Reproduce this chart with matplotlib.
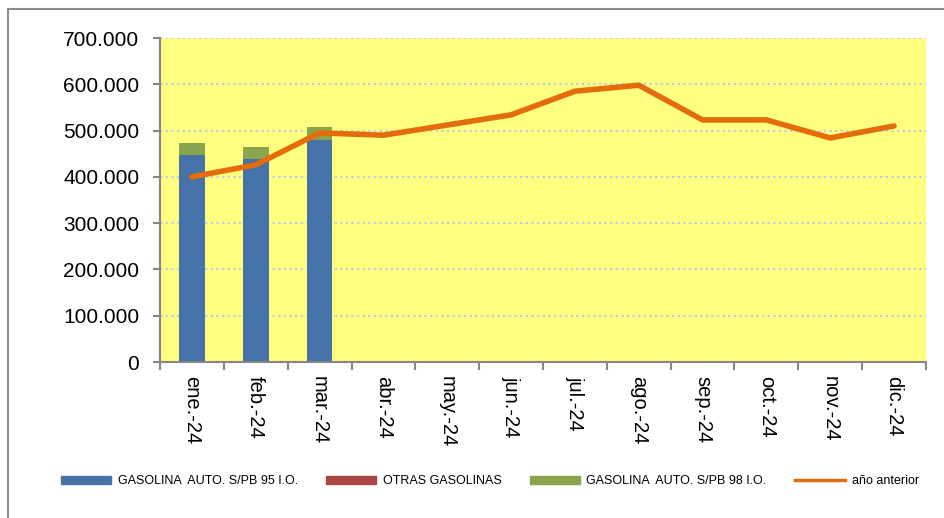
import numpy as np
import matplotlib.pyplot as plt
from matplotlib.lines import Line2D
from matplotlib.patches import Patch, Rectangle
from matplotlib.ticker import FuncFormatter

plt.rcParams['font.family'] = ['Liberation Sans', 'DejaVu Sans']

meses = ['ene.-24', 'feb.-24', 'mar.-24', 'abr.-24', 'may.-24', 'jun.-24',
         'jul.-24', 'ago.-24', 'sep.-24', 'oct.-24', 'nov.-24', 'dic.-24']

# consumo mensual (solo hay datos hasta marzo)
gasolina_95 = [447000, 438000, 480000]
otras_gasolinas = [0, 0, 0]
gasolina_98 = [26000, 26000, 28000]
anio_anterior = [400000, 426000, 495000, 490000, 512000, 534000,
                 585000, 598000, 523000, 523000, 484000, 510000]

azul = '#4572A7'
rojo = '#AA4643'
verde = '#89A54E'
naranja = '#E46C0A'

fig = plt.figure(figsize=(9.44, 5.18), dpi=100)
ax = fig.add_axes([160 / 944, 1 - 362 / 518, 766 / 944, 324 / 518])
ax.set_facecolor('#FFFF80')

x = np.arange(len(meses))
n = len(gasolina_95)
ancho = 0.4
ax.bar(x[:n], gasolina_95, width=ancho, color=azul, zorder=2)
ax.bar(x[:n], otras_gasolinas, width=ancho, bottom=gasolina_95, color=rojo, zorder=2)
base = np.array(gasolina_95) + np.array(otras_gasolinas)
ax.bar(x[:n], gasolina_98, width=ancho, bottom=base, color=verde, zorder=2)
ax.plot(x, anio_anterior, color=naranja, lw=4, solid_capstyle='round', zorder=3)

ax.set_xlim(-0.5, len(meses) - 0.5)
ax.set_ylim(0, 700000)
ax.set_yticks(np.arange(0, 700001, 100000))
ax.yaxis.set_major_formatter(FuncFormatter(lambda v, p: f'{int(v):,}'.replace(',', '.')))
ax.yaxis.grid(True, color='#C3CFDD', ls=(0, (1.2, 1.5)), lw=1.5, zorder=1)

ax.set_xticks(x)
ax.set_xticklabels(meses, rotation=270, fontsize=14.5)
ax.tick_params(axis='x', length=0, pad=10)
ax.set_xticks(np.arange(-0.5, len(meses), 1), minor=True)
ax.tick_params(axis='x', which='minor', length=6, color='#868686', width=1.5)
ax.tick_params(axis='y', labelsize=15, length=5, color='#868686', width=1.5, pad=10)

for lado in ['top', 'right']:
    ax.spines[lado].set_visible(False)
for lado in ['left', 'bottom']:
    ax.spines[lado].set_color('#868686')
    ax.spines[lado].set_linewidth(1.5)

handles = [Patch(color=azul), Patch(color=rojo), Patch(color=verde),
           Line2D([], [], color=naranja, lw=2.5)]
etiquetas = ['GASOLINA  AUTO. S/PB 95 I.O.', 'OTRAS GASOLINAS',
             'GASOLINA  AUTO. S/PB 98 I.O.', 'año anterior']
fig.legend(handles, etiquetas, loc='center', bbox_to_anchor=(490 / 944, 1 - 481 / 518),
           ncol=4, frameon=False, fontsize=9, handlelength=4.0, handleheight=0.6,
           handletextpad=0.5, columnspacing=2.3)

# borde del gráfico
fig.patches.append(Rectangle((8 / 944, -0.1), 1.2, 1 - 9 / 518 + 0.1,
                             transform=fig.transFigure, fill=False,
                             edgecolor='#8C8C8C', lw=1.5))

fig.savefig('out.png', dpi=100)
